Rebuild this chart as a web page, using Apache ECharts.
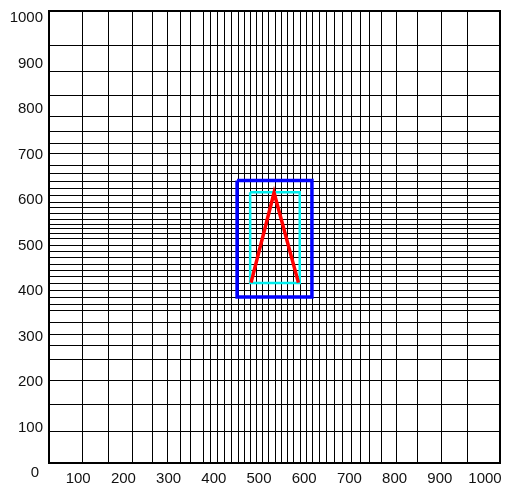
<!DOCTYPE html>
<html lang="en">
<head>
<meta charset="UTF-8">
<title>grid</title>
<script src="https://cdn.jsdelivr.net/npm/echarts@6/dist/echarts.min.js"></script>
<style>
  html, body { margin: 0; padding: 0; background: #fff; }
  #chart { width: 507px; height: 486px; }
</style>
</head>
<body>
<div id="chart"></div>
<script>
// vertical grid lines (x values) and horizontal grid lines (y values)
var gridX = [73, 131, 184, 228, 262, 290, 313, 341, 357, 373, 388, 404, 419, 432, 446, 459, 472, 486,
             501, 514, 528, 541, 557, 570, 583, 599, 614, 632, 650, 670, 690, 710, 736, 769, 816, 869, 927];
var gridY = [925, 867, 814, 768, 735, 708, 686, 659, 642, 624, 608, 593, 577, 566, 553, 540, 529, 520, 509,
             498, 482, 469, 456, 440, 427, 414, 398, 383, 367, 352, 338, 312, 285, 261, 230, 184, 131, 71];

// shapes
var blueRect = [[417, 625], [583, 625], [583, 367], [417, 367], [417, 625]];
var cyanRect = [[446, 599], [556, 599], [556, 398], [446, 398], [446, 599]];
var redLine = [[448, 399], [499, 598], [553, 399]];

var chart = echarts.init(document.getElementById('chart'));

var lines = [];
gridX.forEach(function (v) { lines.push({ xAxis: v }); });
gridY.forEach(function (v) { lines.push({ yAxis: v }); });

var labelFont = { fontFamily: 'Liberation Sans', fontSize: 15, color: '#111' };

var option = {
    animation: false,
    grid: [
        { left: 49, top: 11, width: 451, height: 452, show: true, borderColor: '#000', borderWidth: 2, z: 0 },
        // grid used only for the tick labels, which sit offset from the plot
        { left: 33, top: 18, width: 452, height: 455, show: false }
    ],
    xAxis: [
        { gridIndex: 0, type: 'value', min: 0, max: 1000, show: false },
        {
            gridIndex: 1, type: 'value', min: 0, max: 1000, interval: 100,
            axisLine: { show: false }, axisTick: { show: false }, splitLine: { show: false },
            axisLabel: Object.assign({
                margin: -2, showMinLabel: false,
                formatter: function (v) { return String(v); }
            }, labelFont)
        }
    ],
    yAxis: [
        { gridIndex: 0, type: 'value', min: 0, max: 1000, show: false },
        {
            gridIndex: 1, type: 'value', min: 0, max: 1000, interval: 100,
            axisLine: { show: false }, axisTick: { show: false }, splitLine: { show: false },
            axisLabel: Object.assign({
                margin: -10,
                formatter: function (v) { return v === 0 ? '{z|0}' : String(v); },
                rich: { z: Object.assign({ padding: [0, 4, 0, 0] }, labelFont) }
            }, labelFont)
        }
    ],
    series: [
        {
            type: 'line', xAxisIndex: 0, yAxisIndex: 0, data: [], z: 1, silent: true,
            markLine: {
                z: 1, silent: true, symbol: ['none', 'none'], label: { show: false },
                lineStyle: { color: '#000', width: 1, type: 'solid' },
                emphasis: { disabled: true },
                data: lines
            }
        },
        {
            type: 'line', xAxisIndex: 0, yAxisIndex: 0, data: cyanRect, z: 10,
            symbol: 'none', lineStyle: { color: '#00eeee', width: 2.5, join: 'miter' }
        },
        {
            type: 'line', xAxisIndex: 0, yAxisIndex: 0, data: blueRect, z: 11,
            symbol: 'none', lineStyle: { color: '#0000ff', width: 3.5, join: 'miter' }
        },
        {
            type: 'line', xAxisIndex: 0, yAxisIndex: 0, data: redLine, z: 12,
            symbol: 'none', lineStyle: { color: '#ff0000', width: 3.5, join: 'miter' }
        }
    ]
};
chart.setOption(option);
</script>
</body>
</html>
